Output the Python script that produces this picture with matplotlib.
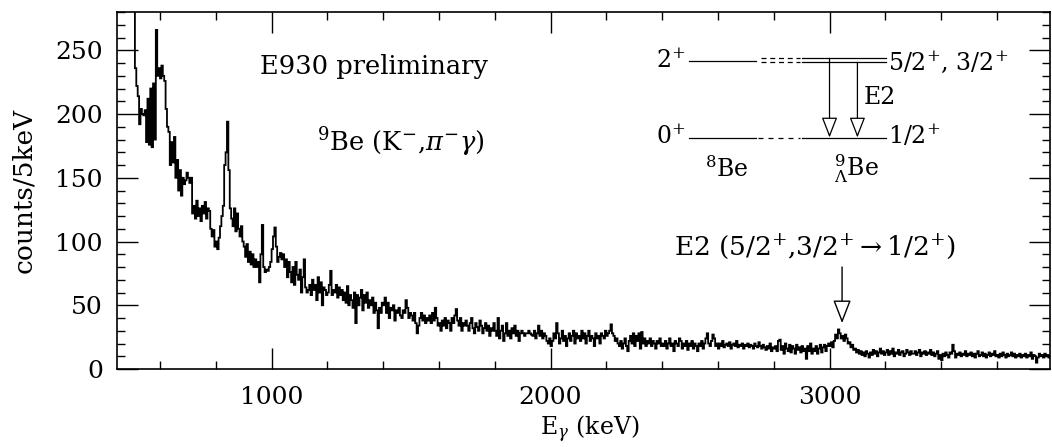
import numpy as np
import matplotlib
matplotlib.use("Agg")
import matplotlib.pyplot as plt
from matplotlib.ticker import MultipleLocator

plt.rcParams['font.family'] = ['DejaVu Serif']
plt.rcParams['mathtext.fontset'] = 'dejavuserif'

# gamma-ray spectrum, 5 keV bins starting at 500 keV (one row = 100 keV)
binStart = 500
binWidth = 5
counts = [
    330, 300, 236, 222, 214, 192, 204, 200, 199, 203, 178, 212, 176, 220, 174, 224, 180, 266, 230, 236,
    228, 238, 230, 226, 204, 190, 186, 160, 178, 162, 182, 150, 164, 140, 156, 136, 150, 145, 148, 154,
    150, 146, 150, 122, 128, 118, 132, 120, 126, 116, 128, 122, 131, 118, 126, 124, 110, 104, 109, 96,
    100, 94, 103, 112, 120, 128, 160, 170, 194, 156, 126, 118, 112, 126, 108, 122, 110, 104, 112, 100,
    96, 88, 98, 84, 92, 82, 90, 80, 86, 80, 84, 68, 90, 113, 80, 76, 78, 77, 80, 84,
    94, 104, 111, 96, 84, 88, 91, 86, 90, 80, 86, 72, 84, 76, 68, 80, 66, 84, 74, 70,
    78, 60, 72, 86, 64, 60, 62, 66, 58, 70, 62, 66, 54, 72, 60, 68, 50, 64, 62, 58,
    60, 66, 77, 58, 62, 60, 66, 56, 64, 58, 62, 54, 60, 52, 65, 50, 58, 54, 48, 60,
    36, 58, 50, 56, 62, 46, 58, 52, 60, 48, 54, 50, 56, 44, 52, 46, 32, 48, 44, 52,
    50, 56, 44, 52, 40, 48, 46, 50, 38, 46, 44, 48, 42, 40, 46, 44, 54, 48, 40, 44,
    42, 38, 44, 36, 28, 34, 40, 44, 38, 42, 36, 40, 38, 42, 36, 44, 38, 48, 40, 34,
    36, 30, 38, 34, 40, 32, 38, 36, 30, 40, 36, 42, 47, 38, 34, 40, 30, 36, 34, 38,
    34, 30, 36, 40, 32, 28, 36, 33, 30, 38, 34, 28, 32, 36, 30, 34, 26, 32, 30, 36,
    30, 26, 40, 24, 30, 34, 22, 28, 36, 26, 30, 24, 32, 28, 34, 26, 30, 22, 28, 30,
    28, 26, 28, 28, 30, 28, 27, 26, 30, 24, 28, 34, 26, 30, 24, 28, 26, 22, 20, 24,
    18, 22, 28, 24, 36, 28, 20, 24, 30, 22, 26, 18, 24, 28, 22, 26, 30, 20, 28, 24,
    26, 22, 30, 24, 28, 20, 26, 30, 22, 26, 24, 18, 28, 24, 26, 20, 28, 26, 24, 30,
    26, 28, 30, 35, 28, 26, 22, 24, 20, 18, 22, 16, 20, 24, 18, 14, 22, 26, 20, 28,
    18, 26, 22, 28, 16, 29, 20, 24, 18, 22, 20, 24, 18, 22, 20, 16, 22, 20, 24, 18,
    20, 18, 22, 16, 20, 24, 18, 20, 14, 22, 20, 18, 24, 22, 16, 20, 18, 22, 15, 20,
    18, 22, 16, 20, 18, 14, 20, 18, 22, 16, 20, 24, 28, 20, 18, 22, 27, 24, 18, 20,
    16, 20, 18, 22, 17, 19, 20, 18, 21, 16, 19, 20, 18, 22, 17, 19, 18, 20, 16, 19,
    18, 20, 17, 19, 18, 16, 20, 18, 17, 21, 18, 16, 19, 17, 15, 18, 16, 20, 14, 17,
    16, 18, 14, 22, 23, 15, 18, 12, 20, 16, 14, 19, 13, 18, 16, 12, 19, 15, 17, 13,
    18, 14, 16, 8, 18, 14, 20, 12, 16, 14, 18, 12, 16, 19, 13, 17, 19, 14, 18, 20,
    18, 21, 17, 22, 27, 24, 31, 28, 24, 26, 22, 27, 24, 20, 21, 17, 19, 15, 16, 13,
    15, 12, 14, 11, 13, 10, 14, 12, 9, 13, 11, 15, 12, 14, 10, 13, 16, 12, 14, 11,
    13, 15, 11, 14, 12, 16, 10, 13, 12, 15, 11, 13, 14, 10, 12, 15, 13, 11, 14, 12,
    12, 14, 11, 13, 15, 10, 13, 12, 14, 11, 13, 12, 15, 11, 13, 10, 12, 14, 8, 11,
    7, 12, 10, 13, 11, 9, 13, 12, 19, 14, 9, 12, 11, 13, 10, 12, 11, 14, 10, 12,
    11, 13, 10, 12, 9, 12, 14, 10, 11, 13, 10, 12, 9, 11, 13, 10, 12, 11, 14, 10,
    11, 9, 12, 10, 13, 11, 9, 12, 10, 11, 13, 10, 12, 9, 11, 10, 12, 9, 11, 10,
    12, 9, 11, 10, 13, 8, 11, 10, 5, 9, 12, 10, 11, 9, 12, 10, 11, 9, 10, 11,
]
edges = binStart + binWidth * np.arange(len(counts) + 1)

peakEnergy = 3045  # E2 transition in 9Lambda-Be

fig = plt.figure(figsize=(10.52, 4.47), dpi=100)
ax = fig.add_axes([0.111, 0.1745, 0.887, 0.7985])

ax.stairs(counts, edges, baseline=None, color='black', lw=1.3)

ax.set_xlim(445, 3790)
ax.set_ylim(0, 280)
ax.xaxis.set_major_locator(MultipleLocator(1000))
ax.xaxis.set_minor_locator(MultipleLocator(200))
ax.yaxis.set_major_locator(MultipleLocator(50))
ax.yaxis.set_minor_locator(MultipleLocator(10))
ax.tick_params(which='both', direction='in', top=True, right=True, width=1.0, labelsize=18)
ax.tick_params(which='major', length=15)
ax.tick_params(which='minor', length=5.5)
ax.tick_params(axis='x', pad=12)
ax.tick_params(axis='y', pad=10)
for s in ax.spines.values():
    s.set_linewidth(1.2)

ax.set_xlabel(r'E$_{\gamma}$ (keV)', fontsize=17)
ax.xaxis.set_label_coords(0.507, -0.125)
ax.set_ylabel('counts/5keV', fontsize=19)
ax.yaxis.set_label_coords(-0.086, 0.5)

ax.text(957, 237, 'E930 preliminary', fontsize=18.5, va='center', ha='left')
ax.text(1161, 178, r'$^{9}$Be (K$^{-}$,$\pi^{-}\gamma$)', fontsize=18.5, va='center', ha='left')

# arrow on the E2 peak
ax.annotate('', xy=(peakEnergy, 36), xytext=(peakEnergy, 80),
            arrowprops=dict(arrowstyle='-|>,head_length=0.9,head_width=0.35',
                            fc='white', ec='black', lw=1.0, mutation_scale=16,
                            shrinkA=0, shrinkB=0))
ax.text(2444, 95, r'E2 (5/2$^{+}$,3/2$^{+}$$\rightarrow$1/2$^{+}$)', fontsize=19,
        va='center', ha='left')

# level scheme inset
lw = 0.9
fs = 17
ax.plot([2498, 2738], [242, 242], color='black', lw=lw)
ax.plot([2756, 2895], [243.7, 243.7], color='black', lw=lw, ls=(0, (4, 3)))
ax.plot([2756, 2895], [240.6, 240.6], color='black', lw=lw, ls=(0, (4, 3)))
ax.plot([2900, 3204], [243.7, 243.7], color='black', lw=lw)
ax.plot([2900, 3204], [240.6, 240.6], color='black', lw=lw)
ax.plot([2498, 2738], [181.6, 181.6], color='black', lw=lw)
ax.plot([2745, 2895], [181.6, 181.6], color='black', lw=lw, ls=(0, (4, 4)))
ax.plot([2900, 3204], [181.6, 181.6], color='black', lw=lw)
for xa, ya in [(3000, 243.7), (3100, 240.6)]:
    ax.annotate('', xy=(xa, 181.6), xytext=(xa, ya),
                arrowprops=dict(arrowstyle='-|>,head_length=0.9,head_width=0.35',
                                fc='white', ec='black', lw=lw, mutation_scale=14,
                                shrinkA=0, shrinkB=0))
ax.text(2484, 242, r'2$^{+}$', fontsize=fs, ha='right', va='center')
ax.text(2484, 182, r'0$^{+}$', fontsize=fs, ha='right', va='center')
ax.text(3211, 241, r'5/2$^{+}$, 3/2$^{+}$', fontsize=fs, ha='left', va='center')
ax.text(3211, 183, r'1/2$^{+}$', fontsize=fs, ha='left', va='center')
ax.text(3122, 213, 'E2', fontsize=fs, ha='left', va='center')
ax.text(2631, 157, r'$^{8}$Be', fontsize=fs, ha='center', va='center')
ax.text(3097, 157, r'$^{9}_{\Lambda}$Be', fontsize=fs, ha='center', va='center')

plt.savefig('out.png', format='png', dpi=100)
